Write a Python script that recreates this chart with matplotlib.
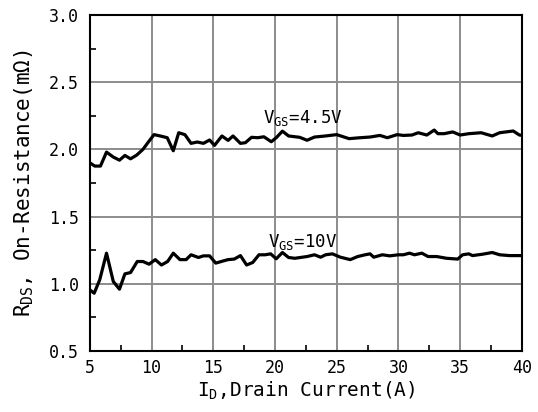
import matplotlib
matplotlib.use("Agg")
import matplotlib.pyplot as plt
from matplotlib.ticker import MultipleLocator

plt.rcParams['font.family'] = ['DejaVu Sans Mono']
plt.rcParams['mathtext.fontset'] = 'custom'
plt.rcParams['mathtext.rm'] = 'DejaVu Sans Mono'
plt.rcParams['mathtext.it'] = 'DejaVu Sans Mono'
plt.rcParams['mathtext.default'] = 'rm'

# VGS = 4.5 V curve
id_45 = [5.0, 5.4, 5.86, 6.35, 6.9, 7.4, 7.84, 8.3, 8.8, 9.3, 9.7, 10.2, 10.7, 11.27, 11.76,
         12.2, 12.7, 13.2, 13.7, 14.2, 14.7, 15.1, 15.7, 16.2, 16.6, 17.2, 17.6, 18.1, 18.6,
         19.1, 19.7, 20.1, 20.6, 21.1, 22.0, 22.6, 23.2, 24.1, 25.0, 26.0, 26.9, 27.7, 28.5,
         29.1, 29.9, 30.4, 31.1, 31.6, 32.3, 32.9, 33.2, 33.7, 34.4, 35.0, 35.7, 36.7, 37.6,
         38.2, 39.3, 39.8, 40.0]
r_45 = [1.90, 1.876, 1.876, 1.98, 1.943, 1.92, 1.955, 1.93, 1.958, 2.0, 2.05, 2.11, 2.10, 2.087,
        1.99, 2.124, 2.11, 2.045, 2.055, 2.045, 2.07, 2.03, 2.10, 2.067, 2.10, 2.045, 2.05, 2.09,
        2.087, 2.094, 2.057, 2.087, 2.136, 2.10, 2.09, 2.068, 2.092, 2.10, 2.11, 2.08, 2.087,
        2.092, 2.104, 2.087, 2.11, 2.104, 2.107, 2.124, 2.107, 2.144, 2.117, 2.117, 2.13, 2.107,
        2.117, 2.124, 2.10, 2.124, 2.137, 2.107, 2.105]

# VGS = 10 V curve
id_10 = [5.0, 5.35, 5.8, 6.35, 6.9, 7.4, 7.84, 8.3, 8.84, 9.3, 9.8, 10.3, 10.8, 11.3, 11.76,
         12.3, 12.8, 13.2, 13.8, 14.2, 14.7, 15.2, 15.8, 16.2, 16.7, 17.2, 17.7, 18.2, 18.7,
         19.2, 19.65, 20.1, 20.6, 21.1, 21.6, 22.6, 23.2, 23.7, 24.1, 24.65, 25.3, 26.1, 26.7,
         27.3, 27.7, 28.0, 28.7, 29.3, 30.0, 30.4, 30.9, 31.3, 31.9, 32.4, 33.1, 33.9, 34.8,
         35.2, 35.7, 36.0, 36.8, 37.6, 38.2, 39.0, 40.0]
r_10 = [0.955, 0.93, 1.03, 1.228, 1.017, 0.96, 1.074, 1.084, 1.166, 1.166, 1.146, 1.18, 1.14,
        1.166, 1.228, 1.18, 1.18, 1.216, 1.196, 1.208, 1.208, 1.154, 1.17, 1.18, 1.184, 1.21,
        1.14, 1.159, 1.216, 1.216, 1.223, 1.186, 1.233, 1.196, 1.19, 1.203, 1.216, 1.198, 1.216,
        1.223, 1.198, 1.18, 1.203, 1.216, 1.223, 1.198, 1.216, 1.208, 1.216, 1.216, 1.228,
        1.216, 1.228, 1.203, 1.203, 1.19, 1.184, 1.216, 1.223, 1.21, 1.22, 1.233, 1.216, 1.21,
        1.21]

x_ticks = [5, 10, 15, 20, 25, 30, 35, 40]
y_ticks = [0.5, 1.0, 1.5, 2.0, 2.5, 3.0]
x_tick_labels = ['5', '10', '15', '20', '25', '30', '35', '40']
y_tick_labels = ['0.5', '1.0', '1.5', '2.0', '2.5', '3.0']

fig = plt.figure(figsize=(5.38, 4.12), dpi=100)
ax = fig.add_axes([0.167, 0.148, 0.803, 0.8156])

ax.set_xlim(5, 40)
ax.set_ylim(0.5, 3.0)
ax.set_xticks(x_ticks)
ax.set_xticklabels(x_tick_labels)
ax.set_yticks(y_ticks)
ax.set_yticklabels(y_tick_labels)
ax.xaxis.set_minor_locator(MultipleLocator(2.5))
ax.yaxis.set_minor_locator(MultipleLocator(0.25))

ax.grid(True, which='major', color='#8c8c8c', linewidth=1.4)
ax.set_axisbelow(True)
ax.tick_params(which='major', length=0, labelsize=12, pad=8)
ax.tick_params(axis='x', which='major', pad=6)
ax.tick_params(which='minor', direction='in', length=4, width=1.2, color='black')
for s in ax.spines.values():
    s.set_linewidth(1.5)
    s.set_color('black')

ax.plot(id_45, r_45, color='black', linewidth=2.3)
ax.plot(id_10, r_10, color='black', linewidth=2.3)

ax.text(19.0, 2.20, r'V$_{GS}$=4.5V', fontsize=12.5, va='baseline', ha='left')
ax.text(19.43, 1.276, r'V$_{GS}$=10V', fontsize=12.5, va='baseline', ha='left')

ax.set_xlabel(r'I$_{D}$,Drain Current(A)', fontsize=14, labelpad=2)
ax.set_ylabel(r'R$_{DS}$, On-Resistance(mΩ)', fontsize=15, labelpad=9)

fig.savefig('out.png', dpi=100)
